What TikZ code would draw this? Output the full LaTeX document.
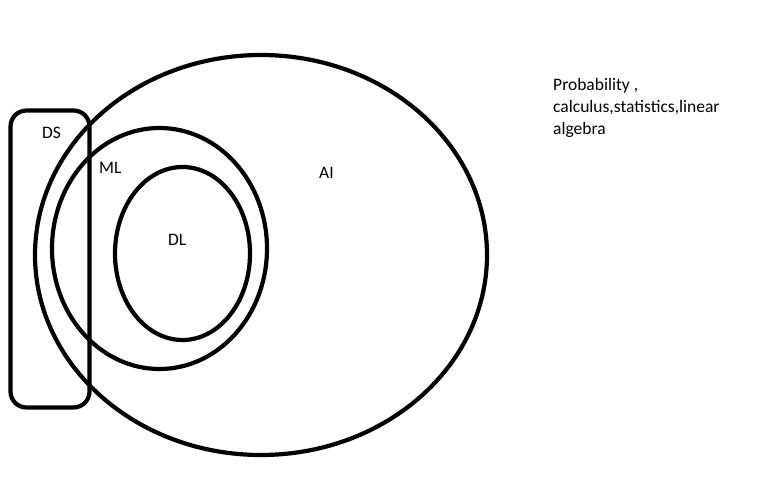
\documentclass[tikz,border=0pt]{standalone}
\usepackage{fontspec}
\setmainfont{Carlito}
\begin{document}
\begin{tikzpicture}[x=1pt,y=-1pt,
  shapeline/.style={line width=4.2pt, draw=black},
  lbl/.style={font=\fontsize{17.5}{22}\selectfont, inner sep=0pt, anchor=base west}]
\useasboundingbox[fill=white] (0,0) rectangle (784,484);
\draw[shapeline] (261,255) ellipse [x radius=226, y radius=200];
\draw[shapeline] (159.5,248.5) ellipse [x radius=107.5, y radius=120.5];
\draw[shapeline] (182.5,253.5) ellipse [x radius=67.5, y radius=86.5];
\draw[shapeline, rounded corners=16pt] (10.5,110.5) rectangle (89.5,407.5);
\node[lbl] (ds) at (42,139) {DS};
\node[lbl] (ml) at (99,173) {ML};
\node[lbl] (dl) at (168,245) {DL};
\node[lbl] (ai) at (319,178) {AI};
\node[lbl, align=left, anchor=north west] (txt) at (553,78)
  {Probability ,\\calculus,statistics,linear\\algebra};
\end{tikzpicture}
\end{document}
